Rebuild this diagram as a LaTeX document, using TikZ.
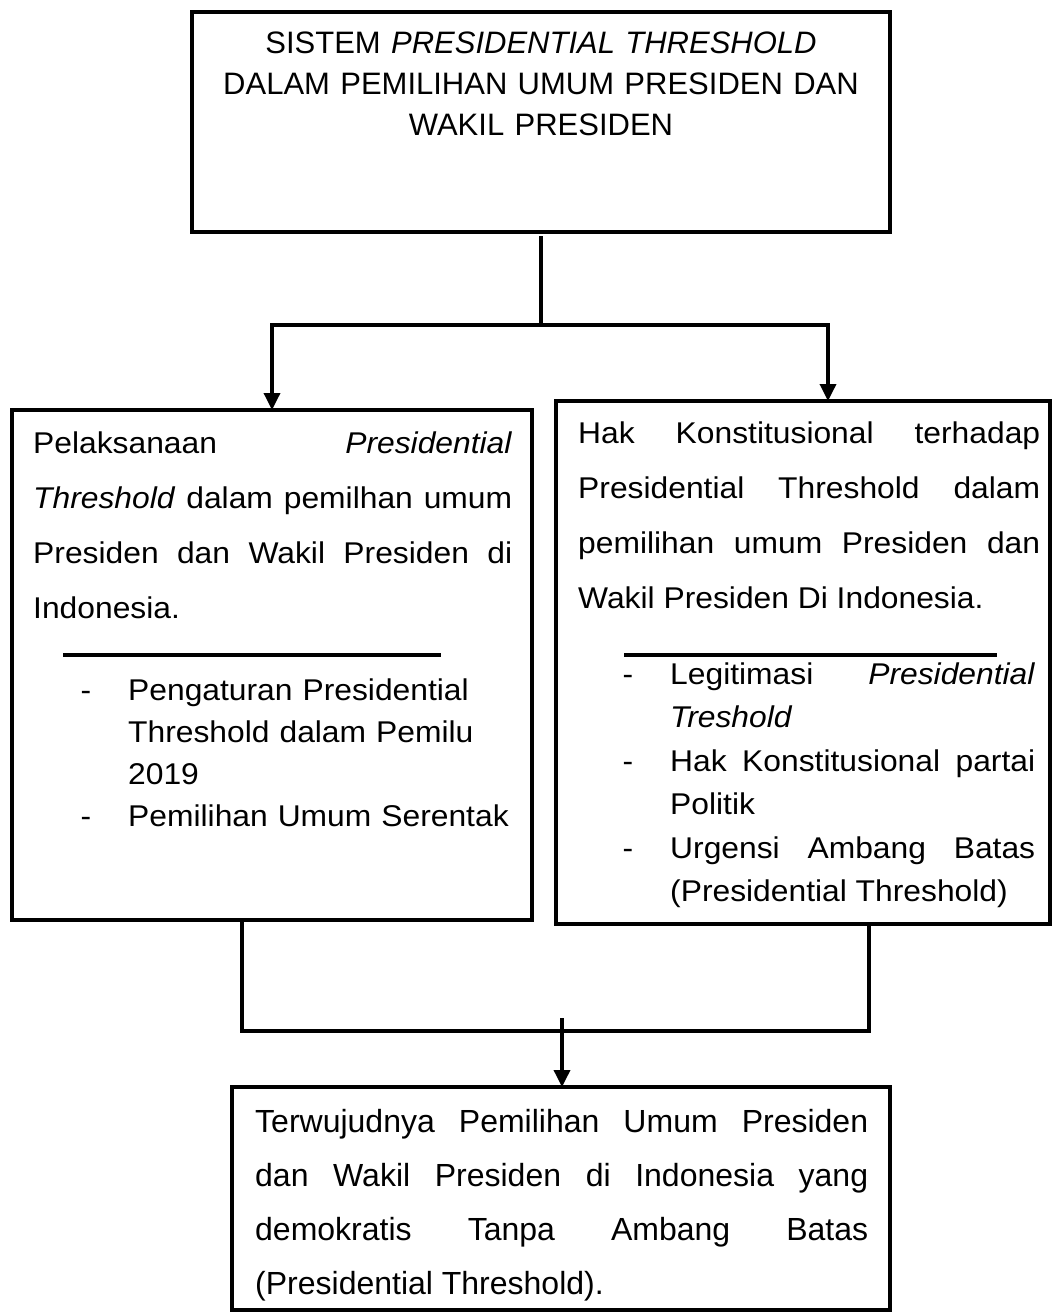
\documentclass[tikz,border=0pt]{standalone}
\usepackage{fontspec}
\setmainfont{Liberation Sans}
\newfontfamily\midfont[FakeStretch=1.06]{Liberation Sans}
\usetikzlibrary{arrows.meta}

\tikzset{
  frame/.style = {draw, line width=3.5pt, inner sep=0pt, outer sep=0pt, anchor=north west},
  link/.style = {line width=3.5pt, line cap=rect},
  arrow/.style = {link, -{Triangle[length=17pt, width=16pt]}},
  head/.style = {anchor=base, inner sep=0pt, text width=690pt, align=center,
                 font=\fontsize{31}{41}\selectfont},
  para/.style = {anchor=base west, inner sep=0pt, align=justify,
                 font=\midfont\fontsize{30}{55}\selectfont},
  listleft/.style = {anchor=base west, inner sep=0pt, align=left,
                     font=\midfont\fontsize{30}{42}\selectfont},
  listright/.style = {anchor=base west, inner sep=0pt, align=justify,
                      font=\midfont\fontsize{30}{43.6}\selectfont},
  bulletdash/.style = {anchor=base, inner sep=0pt, font=\midfont\fontsize{30}{42}\selectfont},
  closing/.style = {anchor=base west, inner sep=0pt, text width=613pt, align=justify,
                    font=\fontsize{32}{54}\selectfont}
}

\begin{document}
\begin{tikzpicture}[x=1pt, y=-1pt]
  \useasboundingbox (0,0) rectangle (1052,1313);

  % boxes
  \node[frame, minimum width=698pt, minimum height=220pt] (sistem) at (192,12) {};
  \node[frame, minimum width=520pt, minimum height=510pt] (pelaksanaan) at (12,410) {};
  \node[frame, minimum width=494pt, minimum height=523pt] (hak) at (556,401) {};
  \node[frame, minimum width=658pt, minimum height=223pt] (hasil) at (232,1087) {};

  % title
  \node[head] (sistemtext) at (541,54) {SISTEM \textit{PRESIDENTIAL THRESHOLD}\\ DALAM PEMILIHAN UMUM PRESIDEN DAN\\ WAKIL PRESIDEN};

  % left box
  \node[para, text width=479pt] (peltext) at (33,453) {Pelaksanaan \textit{Presidential}\linebreak \textit{Threshold} dalam pemilhan umum\linebreak Presiden dan Wakil Presiden di\linebreak Indonesia.};
  \draw[line width=3.5pt] (63,655) -- (441,655);
  \node[bulletdash] (dashA) at (86,700) {-};
  \node[listleft, text width=400pt] (pengaturan) at (128,700) {Pengaturan Presidential\\ Threshold dalam Pemilu\\ 2019};
  \node[bulletdash] (dashB) at (86,826) {-};
  \node[listleft, text width=400pt] (serentak) at (128,826) {Pemilihan Umum Serentak};

  % right box
  \node[para, text width=462pt] (haktext) at (578,443) {Hak Konstitusional terhadap\linebreak Presidential Threshold dalam\linebreak pemilihan umum Presiden dan\linebreak Wakil Presiden Di Indonesia.};
  \draw[line width=3.5pt] (624,655) -- (997,655);
  \node[bulletdash] (dashC) at (628,684) {-};
  \node[listright, text width=365pt] (legitimasi) at (670,684) {Legitimasi \textit{Presidential}\linebreak \textit{Treshold}};
  \node[bulletdash] (dashD) at (628,771) {-};
  \node[listright, text width=365pt] (partai) at (670,771) {Hak Konstitusional partai\linebreak Politik};
  \node[bulletdash] (dashE) at (628,858) {-};
  \node[listright, text width=365pt] (urgensi) at (670,858) {Urgensi Ambang Batas\linebreak (Presidential Threshold)};

  % bottom box
  \node[closing] (hasiltext) at (255,1132) {Terwujudnya Pemilihan Umum Presiden\linebreak dan Wakil Presiden di Indonesia yang\linebreak demokratis Tanpa Ambang Batas\linebreak (Presidential Threshold).};

  % connectors
  \coordinate (fork) at (541,325);
  \coordinate (forkL) at (272,325);
  \coordinate (forkR) at (828,325);
  \draw[link] ([yshift=-6pt]sistem.south) -- (fork);
  \draw[link] (forkL) -- (forkR);
  \draw[arrow] (forkL) -- (forkL |- pelaksanaan.north);
  \draw[arrow] (forkR) -- (forkR |- hak.north);

  \coordinate (joinL) at (242,1031);
  \coordinate (joinR) at (869,1031);
  \coordinate (joinM) at (562,1020);
  \draw[link] (joinL |- pelaksanaan.south) -- (joinL) -- (joinR) -- (joinR |- hak.south);
  \draw[arrow] (joinM) -- (joinM |- hasil.north);
\end{tikzpicture}
\end{document}
